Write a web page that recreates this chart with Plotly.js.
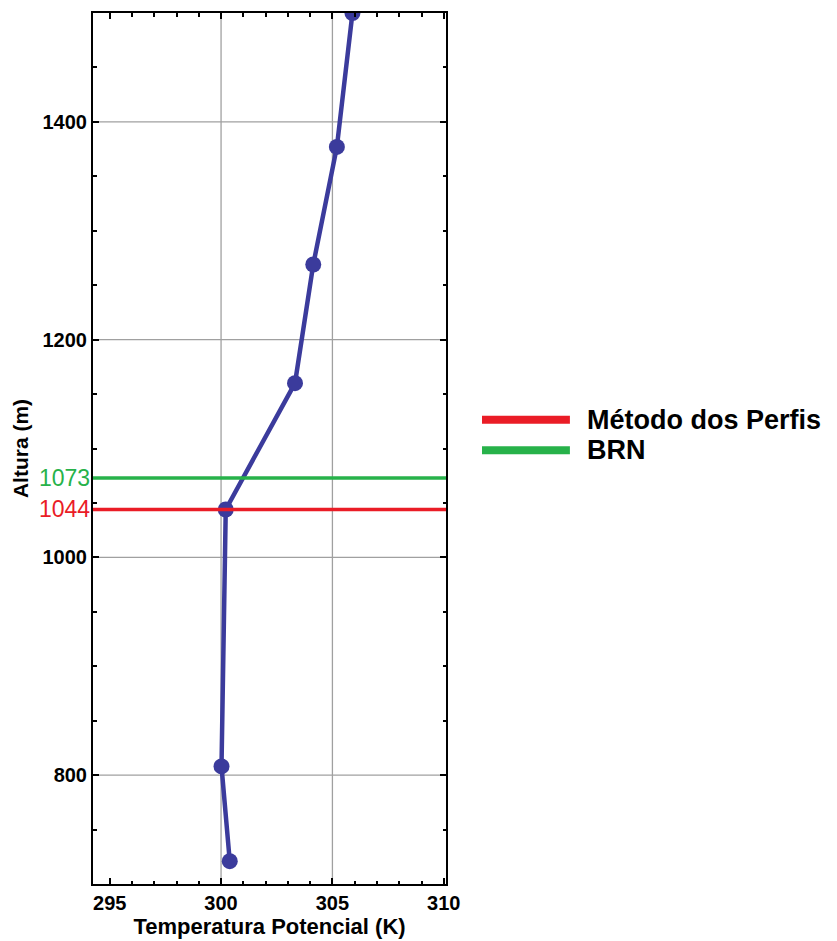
<!DOCTYPE html>
<html>
<head>
<meta charset="utf-8">
<script src="https://cdn.plot.ly/plotly-3.0.1.min.js"></script>
<style>html,body{margin:0;padding:0;background:#fff;}#chart{width:837px;height:941px;}</style>
</head>
<body>
<div id="chart"></div>
<script>
// Data
const temperatura = [300.39, 300.02, 300.21, 303.32, 304.14, 305.2, 305.9]; // K
const altura = [721, 808, 1044, 1160, 1269, 1377, 1500]; // m
const metodos = ["Método dos Perfis", "BRN"];
const alturasCLP = [1044, 1073];
const coresMetodos = ["#ea1c26", "#27b24a"];
const xTicks = [295, 300, 305, 310];
const yTicks = [800, 1000, 1200, 1400];
const xGrid = [300, 305];
const yGrid = [800, 1000, 1200, 1400];

const lineColor = "#3b3b9c";
const font = "Liberation Sans, Arial, sans-serif";

const shapes = [];
xGrid.forEach(v => shapes.push({type:"line", xref:"x", yref:"paper", x0:v, x1:v, y0:0, y1:1,
  line:{color:"#a0a0a0", width:1.3}, layer:"below"}));
yGrid.forEach(v => shapes.push({type:"line", xref:"paper", yref:"y", x0:0, x1:1, y0:v, y1:v,
  line:{color:"#a0a0a0", width:1.3}, layer:"below"}));
alturasCLP.forEach((v,i) => shapes.push({type:"line", xref:"paper", yref:"y", x0:0, x1:1, y0:v, y1:v,
  line:{color:coresMetodos[i], width:3.5}, layer:"above"}));

const annotations = [];
alturasCLP.forEach((v,i) => annotations.push({xref:"paper", yref:"y", x:0, y:v, xanchor:"right", yanchor:"middle",
  xshift:-1, text:String(v), showarrow:false, font:{family:font, size:23, color:coresMetodos[i]}}));

// legend (manual, to match long thick keys)
const legY = [0.533, 0.498];
metodos.forEach((m,i) => {
  shapes.push({type:"line", xref:"paper", yref:"paper", x0:1.102, x1:1.351, y0:legY[i], y1:legY[i],
    line:{color:coresMetodos[i], width:8}});
  annotations.push({xref:"paper", yref:"paper", x:1.394, y:legY[i], xanchor:"left", yanchor:"middle",
    text:m, showarrow:false, font:{family:font, size:27, color:"#000", weight:"bold"}});
});

const traces = [{
  x: temperatura, y: altura, type:"scatter", mode:"lines+markers",
  line:{color:lineColor, width:4.5}, marker:{color:lineColor, size:16},
  showlegend:false, cliponaxis:true
}];

const axisCommon = {
  showline:true, linecolor:"#000", linewidth:2, mirror:"allticks",
  ticks:"inside", ticklen:6, tickwidth:2, tickcolor:"#000",
  showgrid:false, zeroline:false,
  tickfont:{family:font, size:20, color:"#000", weight:"bold"}
};

const layout = {
  width:837, height:941,
  margin:{l:93, r:391, t:13, b:57},
  paper_bgcolor:"#fff", plot_bgcolor:"#fff",
  showlegend:false,
  xaxis: Object.assign({}, axisCommon, {
    range:[294.25, 310.1], tickmode:"array", tickvals:xTicks, ticktext:xTicks.map(String),
    minor:{dtick:1, tick0:295, ticks:"inside", ticklen:3.5, tickwidth:2, tickcolor:"#000", showgrid:false},
    title:{text:"Temperatura Potencial (K)", standoff:6, font:{family:font, size:22, color:"#000", weight:"bold"}}
  }),
  yaxis: Object.assign({}, axisCommon, {
    range:[700, 1500], tickmode:"array", tickvals:yTicks, ticktext:yTicks.map(String),
    minor:{dtick:50, tick0:700, ticks:"inside", ticklen:3.5, tickwidth:2, tickcolor:"#000", showgrid:false},
    title:{text:"Altura (m)", standoff:8, font:{family:font, size:21, color:"#000", weight:"bold"}}
  }),
  shapes: shapes,
  annotations: annotations
};

Plotly.newPlot("chart", traces, layout, {displayModeBar:false, staticPlot:true});
</script>
</body>
</html>
